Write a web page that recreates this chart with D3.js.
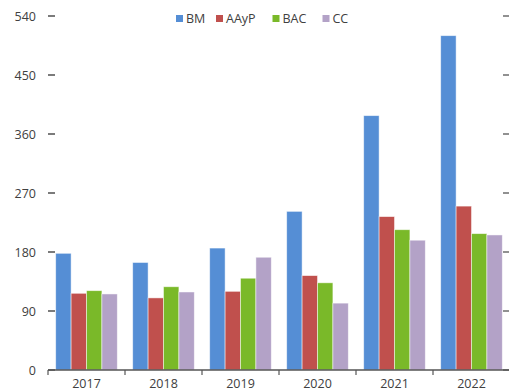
<!DOCTYPE html>
<html><head><meta charset="utf-8">
<script src="https://cdn.jsdelivr.net/npm/d3@7"></script>
<style>body{margin:0;background:#fff}svg{display:block}</style>
</head><body>
<script>
const categories = ["2017","2018","2019","2020","2021","2022"];
const seriesNames = ["BM","AAyP","BAC","CC"];
const BM   = [178, 164, 186, 242, 388, 510];
const AAyP = [117, 110, 120, 144, 234, 250];
const BAC  = [121, 127, 140, 133, 214, 208];
const CC   = [116, 119, 172, 102, 198, 206];
const colors = ["#558ED5","#C0504D","#7AB929","#B3A2C7"];
const yTicks = [0,90,180,270,360,450,540];

const W=509,H=391;
const svg=d3.select("body").append("svg").attr("width",W).attr("height",H);
const font="'Open Sans', sans-serif";
const x=d3.scaleBand().domain(categories).range([48,510]).paddingInner(0).paddingOuter(0);
const xs=d3.scaleBand().domain(seriesNames)
  .range([x.bandwidth()*0.1,x.bandwidth()*0.9]).paddingInner(0).paddingOuter(0);
const y=d3.scaleLinear().domain([0,540]).range([370,16]);
const data=[BM,AAyP,BAC,CC];

// bars
categories.forEach((c,i)=>{
  seriesNames.forEach((s,j)=>{
    svg.append("rect")
      .attr("x",x(c)+xs(s)).attr("width",xs.bandwidth())
      .attr("y",y(data[j][i])).attr("height",y(0)-y(data[j][i]))
      .attr("fill",colors[j]).attr("stroke","#fff").attr("stroke-opacity",0.6).attr("stroke-width",0.8);
  });
});

// left axis
const yAxis=d3.axisLeft(y).tickValues(yTicks).tickSize(0).tickPadding(0);
const gy=svg.append("g").attr("transform","translate(36,0)").call(yAxis);
gy.select(".domain").remove();
gy.selectAll("text").attr("font-family",font).attr("font-size",12.5).attr("fill","#404040");
yTicks.forEach(t=>{
  svg.append("line").attr("x1",48).attr("x2",55).attr("y1",y(t)).attr("y2",y(t)).attr("stroke","#333").attr("stroke-width",1.3);
  svg.append("line").attr("x1",503).attr("x2",509).attr("y1",y(t)).attr("y2",y(t)).attr("stroke","#555").attr("stroke-width",1.3);
});

// x axis
const xAxis=d3.axisBottom(x).tickSize(0).tickPadding(9);
const gx=svg.append("g").attr("transform","translate(0,370)").call(xAxis);
gx.select(".domain").remove();
gx.selectAll("text").attr("font-family",font).attr("font-size",12.5).attr("fill","#404040");
svg.append("line").attr("x1",48).attr("x2",509).attr("y1",370).attr("y2",370).attr("stroke","#555").attr("stroke-width",1.5);
categories.forEach(c=>{
  svg.append("line").attr("x1",x(c)).attr("x2",x(c)).attr("y1",370).attr("y2",375).attr("stroke","#555").attr("stroke-width",1.2);
});

// legend
const legX=[176,216,272.5,322.5];
seriesNames.forEach((s,j)=>{
  svg.append("rect").attr("x",legX[j]).attr("y",15).attr("width",7).attr("height",7).attr("fill",colors[j]);
  svg.append("text").attr("x",legX[j]+10).attr("y",23).text(s)
    .attr("font-family",font).attr("font-size",12.5).attr("fill","#404040");
});
</script>
</body></html>
